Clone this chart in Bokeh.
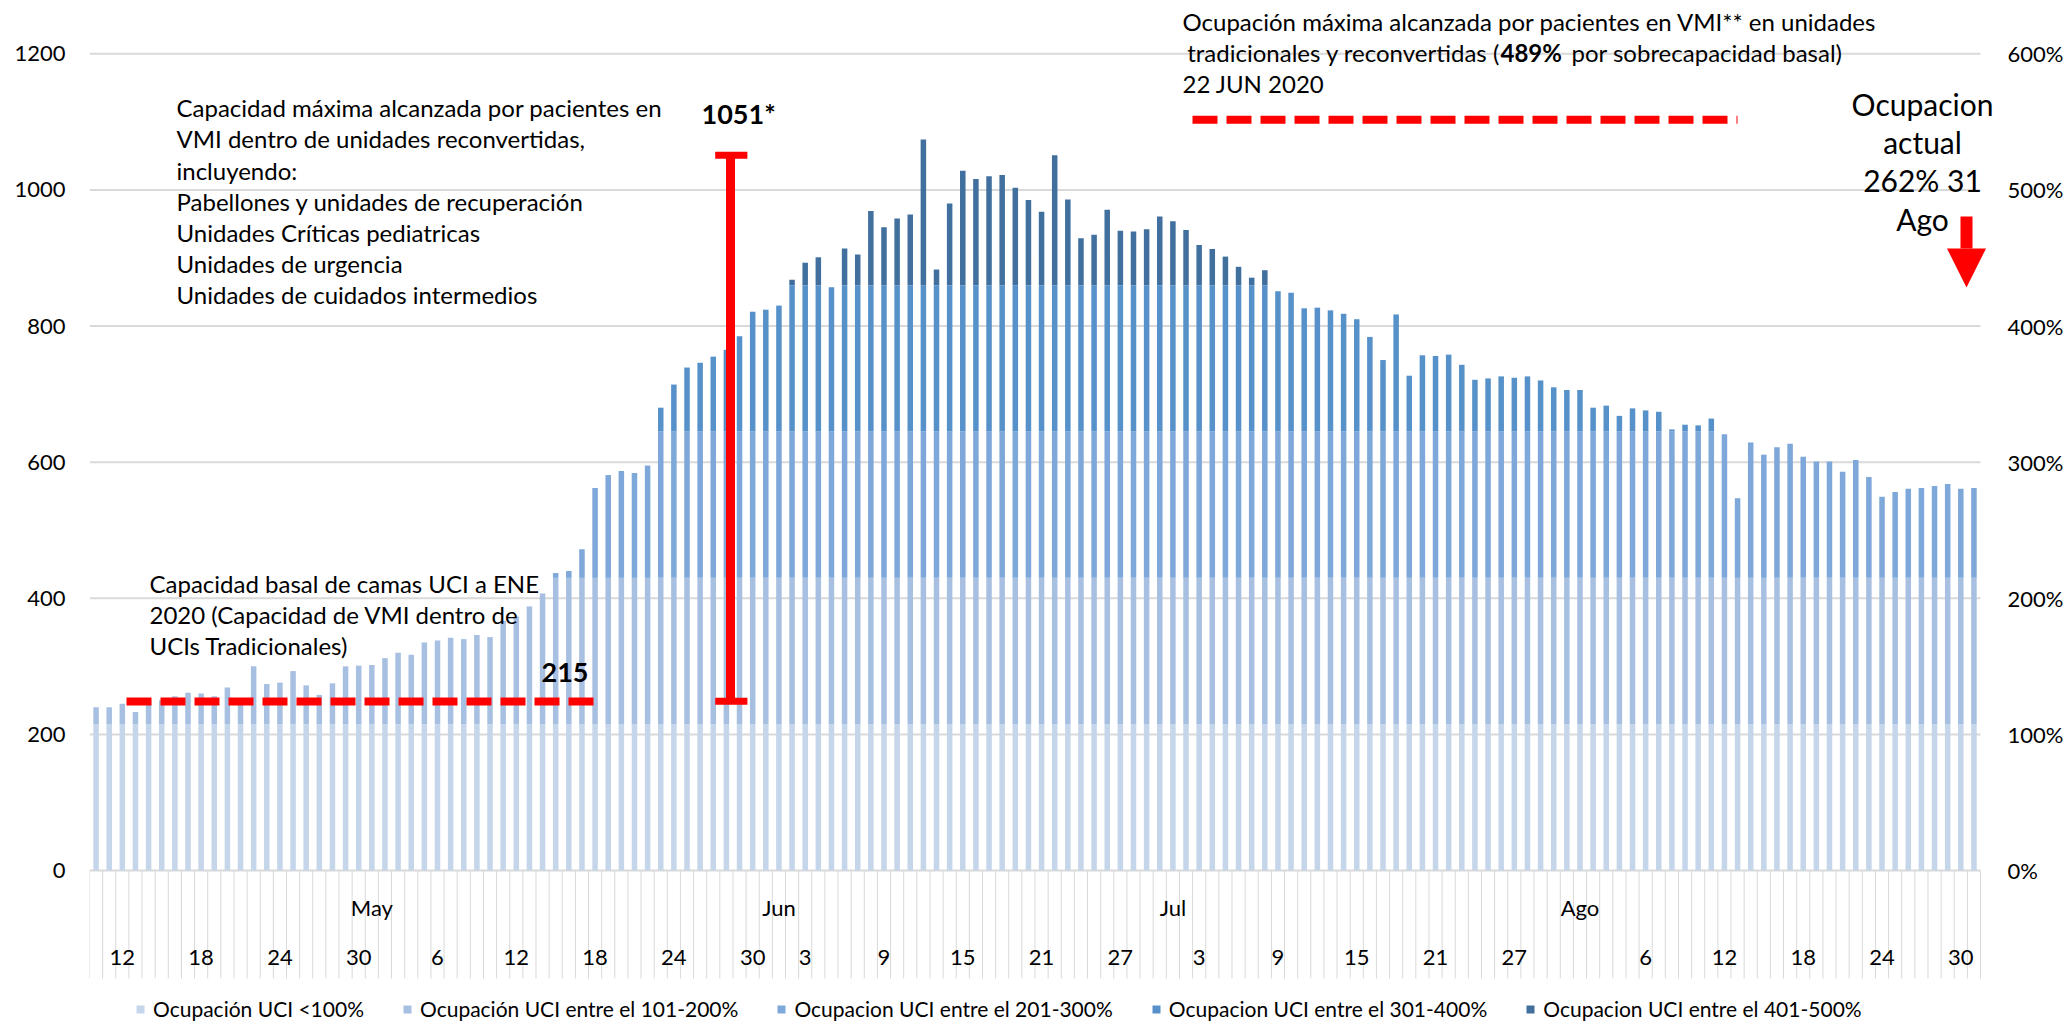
import pandas as pd
from bokeh.plotting import figure
from bokeh.models import (ColumnDataSource, Range1d, LinearAxis, FixedTicker,
                          Legend, LegendItem, Arrow, NormalHead)
from bokeh.core.properties import value
from bokeh.embed import file_html
from bokeh.resources import INLINE

# ---------------- data ----------------
start_date = "2020-04-10"
end_date = "2020-08-31"

vmi_patients = [
    240, 240, 245, 233, 250, 250, 256, 261, 260, 256,
    269, 248, 300, 274, 276, 293, 272, 258, 275, 300,
    301, 302, 312, 320, 317, 335, 338, 342, 340, 346,
    343, 367, 373, 388, 407, 437, 440, 472, 562, 581,
    587, 584, 595, 680, 714, 739, 746, 755, 765, 785,
    821, 824, 830, 868, 893, 901, 857, 914, 905, 969,
    945, 958, 964, 1074, 883, 980, 1028, 1016, 1020, 1022,
    1003, 985, 968, 1051, 986, 929, 934, 971, 940, 939,
    942, 961, 954, 941, 919, 913, 902, 887, 871, 882,
    851, 849, 826, 827, 823, 818, 810, 784, 750, 817,
    727, 757, 756, 758, 743, 721, 723, 726, 724, 726,
    720, 710, 706, 706, 680, 683, 668, 679, 676, 674,
    648, 655, 654, 664, 641, 547, 629, 611, 622, 627,
    608, 601, 601, 586, 603, 578, 549, 556, 561, 562,
    565, 568, 561, 562,
]

basal_capacity = 215
peak_capacity = 1051

band_keys = ["b1", "b2", "b3", "b4", "b5"]
band_labels = [
    "Ocupación UCI <100%",
    "Ocupación UCI entre el 101-200%",
    "Ocupacion UCI entre el 201-300%",
    "Ocupacion UCI entre el 301-400%",
    "Ocupacion UCI entre el 401-500%",
]
band_colors = ["#C5D5EA", "#A7C0E2", "#7DA8D9", "#5691CA", "#41709F"]

day_label_dates = ["2020-04-12", "2020-04-18", "2020-04-24", "2020-04-30",
                   "2020-05-06", "2020-05-12", "2020-05-18", "2020-05-24", "2020-05-30",
                   "2020-06-03", "2020-06-09", "2020-06-15", "2020-06-21", "2020-06-27",
                   "2020-07-03", "2020-07-09", "2020-07-15", "2020-07-21", "2020-07-27",
                   "2020-08-06", "2020-08-12", "2020-08-18", "2020-08-24", "2020-08-30"]
day_labels = ["12", "18", "24", "30", "6", "12", "18", "24", "30",
              "3", "9", "15", "21", "27", "3", "9", "15", "21", "27",
              "6", "12", "18", "24", "30"]
month_label_dates = ["2020-05-01", "2020-06-01", "2020-07-01", "2020-08-01"]
month_labels = ["May", "Jun", "Jul", "Ago"]

left_ticks = [0, 200, 400, 600, 800, 1000, 1200]
right_tick_labels = ["0%", "100%", "200%", "300%", "400%", "500%", "600%"]

# ---------------- layout constants (reference pixels) ----------------
FONT = "Lato"
W, H = 2070, 1023
PX_LEFT = 89.0      # frame left / first category boundary
PX_RIGHT = 1995.0   # frame right (room for edge annotations)
PITCH = 13.132      # px per category
Y0_PX = 870.0       # y pixel of value 0
PX_PER_UNIT = 0.6806

def dx(px):
    return (px - PX_LEFT) / PITCH - 0.5

def dy(py):
    return (Y0_PX - py) / PX_PER_UNIT

dates = pd.date_range(start_date, end_date, freq="D")
n = len(dates)
xs = list(range(n))

p = figure(width=W, height=H, output_backend="svg", toolbar_location=None,
           x_range=Range1d(dx(PX_LEFT), dx(PX_RIGHT)),
           y_range=Range1d(dy(H), dy(0)),
           x_axis_location=None, min_border_left=int(PX_LEFT),
           min_border_right=int(W - PX_RIGHT),
           min_border_top=0, min_border_bottom=0)
p.outline_line_color = None
p.background_fill_color = "white"
p.border_fill_color = "white"

def style_axis(ax, standoff):
    ax.axis_line_color = None
    ax.major_tick_line_color = None
    ax.minor_tick_line_color = None
    ax.major_tick_out = 0
    ax.major_tick_in = 0
    ax.minor_tick_out = 0
    ax.minor_tick_in = 0
    ax.major_label_text_font = FONT
    ax.major_label_text_font_size = "22px"
    ax.major_label_text_color = "#000000"
    ax.major_label_standoff = standoff

yax = p.yaxis[0]
yax.ticker = FixedTicker(ticks=left_ticks)
style_axis(yax, 24)

rax = LinearAxis(ticker=FixedTicker(ticks=left_ticks),
                 major_label_overrides={t: l for t, l in zip(left_ticks, right_tick_labels)})
style_axis(rax, 12)
p.add_layout(rax, "right")

# horizontal gridlines limited to the category span
p.xgrid.visible = False
p.ygrid.visible = False
p.segment(x0=[-0.5] * len(left_ticks), y0=left_ticks,
          x1=[n - 0.5] * len(left_ticks), y1=left_ticks,
          line_color="#D9D9D9", line_width=2)

# stacked bands
cols = {"x": xs}
for k, key in enumerate(band_keys):
    lo = k * basal_capacity
    cols[key] = [max(0, min(v - lo, basal_capacity)) for v in vmi_patients]
source = ColumnDataSource(cols)
rs = p.vbar_stack(band_keys, x="x", width=0.42, fill_color=band_colors,
                  line_color=None, source=source)

# category axis area: separators, day and month labels
sep_x = [i - 0.5 for i in range(n + 1)]
p.segment(x0=sep_x, y0=[0] * len(sep_x), x1=sep_x, y1=[dy(978)] * len(sep_x),
          line_color="#D9D9D9", line_width=1)

day_idx = [dates.get_loc(pd.Timestamp(d)) for d in day_label_dates]
p.text(x=day_idx, y=[dy(957)] * len(day_idx), text=day_labels,
       text_font=value(FONT), text_font_size="22px", text_align="center",
       text_baseline="middle", text_color="#000000")
month_idx = [dates.get_loc(pd.Timestamp(d)) for d in month_label_dates]
p.text(x=month_idx, y=[dy(907)] * len(month_idx), text=month_labels,
       text_font=value(FONT), text_font_size="22px", text_align="center",
       text_baseline="middle", text_color="#000000")

# ---------------- annotations ----------------
def text_block(lines, x_px, y0_px, spacing_px, size, align="left", style="normal"):
    p.text(x=[dx(x_px)] * len(lines),
           y=[dy(y0_px + i * spacing_px) for i in range(len(lines))],
           text=lines, text_font=value(FONT), text_font_size=size,
           text_align=align, text_baseline="middle", text_color="#000000",
           text_font_style=style)

text_block(["Capacidad máxima alcanzada por pacientes en",
            "VMI dentro de unidades reconvertidas,",
            "incluyendo:",
            "Pabellones y unidades de recuperación",
            "Unidades Críticas pediatricas",
            "Unidades de urgencia",
            "Unidades de cuidados intermedios"], 176, 107.3, 31.1, "24px")

text_block(["Capacidad basal de camas UCI a ENE",
            "2020 (Capacidad de VMI dentro de",
            "UCIs Tradicionales)"], 149, 583.3, 31, "24px")

text_block([str(basal_capacity)], 541, 671.7, 0, "27px", style="bold")
text_block([f"{peak_capacity}*"], 701, 113, 0, "27px", style="bold")

text_block(["Ocupación máxima alcanzada por pacientes en VMI** en unidades"], 1182, 20.7, 0, "24px")
text_block(["tradicionales y reconvertidas ("], 1500, 51.7, 0, "24px", align="right")
text_block(["489%"], 1500, 51.7, 0, "24px", style="bold")
text_block(["por sobrecapacidad basal)"], 1571, 51.7, 0, "24px")
text_block(["22 JUN 2020"], 1182, 82.7, 0, "24px")

text_block(["Ocupacion", "actual", "262% 31", "Ago"], 1922, 103, 38.4, "30px", align="center")

# red dashed lines
basal_line_level = dy(701)
p.line(x=[dx(126), dx(601)], y=[basal_line_level] * 2, line_color="#FF0000",
       line_width=8, line_dash="25 9")
max_line_level = dy(119.3)
p.line(x=[dx(1192), dx(1737)], y=[max_line_level] * 2, line_color="#FF0000",
       line_width=8, line_dash="25 9")

# red bracket
bx = dx(730)
p.segment(x0=[bx], y0=[dy(700.8)], x1=[bx], y1=[peak_capacity],
          line_color="#FF0000", line_width=9)
p.segment(x0=[dx(714.7), dx(714.7)], y0=[peak_capacity, dy(700.8)],
          x1=[dx(746.9), dx(746.9)], y1=[peak_capacity, dy(700.8)],
          line_color="#FF0000", line_width=7)

# red down arrow
p.add_layout(Arrow(end=NormalHead(size=39, fill_color="#FF0000", line_color="#FF0000", line_width=0),
                   x_start=dx(1966), y_start=dy(216), x_end=dx(1966), y_end=dy(287),
                   line_color="#FF0000", line_width=12))

# legend
legend = Legend(items=[LegendItem(label=l, renderers=[r]) for l, r in zip(band_labels, rs)],
                orientation="horizontal", location=(46, 2),
                glyph_width=10, glyph_height=10, label_standoff=8, spacing=38,
                padding=0, margin=0, border_line_color=None, background_fill_alpha=0,
                label_text_font=FONT, label_text_font_size="21px",
                label_text_color="#000000")
p.add_layout(legend, "center")

open("out.html", "w").write(file_html(p, INLINE))
